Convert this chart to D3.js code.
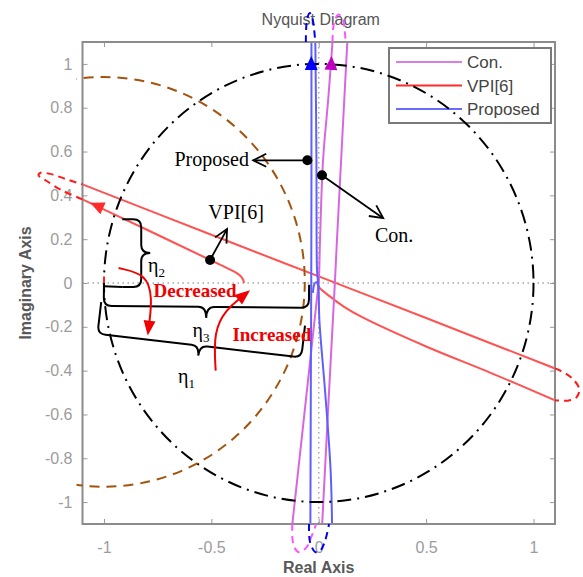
<!DOCTYPE html>
<html><head><meta charset="utf-8">
<script src="https://cdn.jsdelivr.net/npm/d3@7"></script>
<style>body{margin:0;background:#fff}svg{display:block}</style>
</head><body>
<svg id="c" width="583" height="577"></svg>
<script>
// ---------- data ----------
const xTicks = [-1, -0.5, 0, 0.5, 1];
const yTicks = [-1, -0.8, -0.6, -0.4, -0.2, 0, 0.2, 0.4, 0.6, 0.8, 1];
const legendLabels = ["Con.", "VPI[6]", "Proposed"];

// Con. (magenta) branches
const conA = [[-0.123,-1.1],[-0.095,-0.85],[-0.045,-0.4],[-0.004,-0.03],[0.0,0.0],[0.006,0.2],[0.02,0.56],[0.045,0.85],[0.064,1.1]];
const conB = [[0.016,-1.1],[0.045,-0.55],[0.075,0.0],[0.085,0.2],[0.133,1.1]];
const conLoopTop = [[0.064,1.1],[0.07,1.18],[0.09,1.225],[0.11,1.21],[0.12,1.16],[0.125,1.1]];
const conLoopBottom = [[-0.123,-1.1],[-0.119,-1.19],[-0.095,-1.228],[-0.06,-1.21],[-0.035,-1.16],[-0.012,-1.1]];

// VPI[6] (red) branches
const vpiUpper = [[-1.1,0.45],[-0.5,0.22],[0.0,0.03],[0.5,-0.16],[1.1,-0.39]];
const vpiLowerLeft = [[-1.1,0.382],[-0.8,0.243],[-0.505,0.105],[-0.4,0.055],[-0.368,0.035],[-0.352,0.015],[-0.348,0.0]];
const vpiLowerRight = [[-0.006,-0.002],[0.0,-0.018],[0.05,-0.06],[0.12,-0.11],[0.2,-0.155],[0.5,-0.29],[0.8,-0.41],[1.1,-0.535]];
const vpiLoopLeft = [[-1.1,0.382],[-1.2,0.425],[-1.27,0.468],[-1.305,0.492],[-1.295,0.503],[-1.25,0.498],[-1.18,0.475],[-1.1,0.45]];
const vpiLoopRight = [[1.1,-0.39],[1.15,-0.413],[1.19,-0.445],[1.213,-0.485],[1.2,-0.522],[1.16,-0.537],[1.1,-0.535]];

// Proposed (blue) branches
const propA = [[-0.039,-1.1],[-0.037,-0.5],[-0.035,0.0],[-0.034,0.5],[-0.034,1.1]];
const propB = [[-0.016,1.1],[-0.011,0.6],[-0.010,0.2],[-0.008,0.06],[-0.004,0.01],[-0.001,-0.02],[0.003,-0.17],[0.03,-0.5],[0.055,-0.85],[0.062,-1.1]];
const propHook = [[-0.027,-0.045],[-0.022,-0.01],[-0.013,0.004],[-0.004,-0.005],[0.0,-0.03]];
const propLoopTop = [[-0.06,1.1],[-0.055,1.2],[-0.042,1.232],[-0.03,1.21],[-0.022,1.16],[-0.016,1.1]];
const propLoopBottom = [[-0.045,-1.1],[-0.041,-1.18],[-0.016,-1.228],[0.007,-1.222],[0.03,-1.175],[0.048,-1.1]];

// direction arrows on curves [x, y, angle(deg, 0 = up)]
const curveArrows = [
  {x:-0.035, y:1.0, a:0, c:"#0000ff"},
  {x:0.058, y:1.0, a:3, c:"#c000c0"},
  {x:-1.03, y:0.352, a:-66, c:"#ff2a2a"}
];

// reference circles
const unitCircle = {cx:0, cy:0, r:1};
const vpiCircle = {cx:-1.0, cy:0.005, r:0.935};

// annotations (data coordinates)
const annDots = [[-0.053,0.56],[0.015,0.492],[-0.506,0.105]];
const annArrows = [
  {from:[-0.053,0.56], to:[-0.305,0.56]},
  {from:[0.015,0.492], to:[0.30,0.296]},
  {from:[-0.506,0.105], to:[-0.427,0.246]}
];
const annTexts = [
  {t:"Proposed", x:-0.325, y:0.533, anchor:"end"},
  {t:"Con.", x:0.262, y:0.185, anchor:"start"},
  {t:"VPI[6]", x:-0.514, y:0.29, anchor:"start"}
];
const braces = [
  {p1:[-0.915,0.291], p2:[-0.915,-0.018], side:-1, h:19, t:9, lab:"2", lx:-0.795, ly:0.05},
  {p1:[-1.0,0.0], p2:[-0.045,-0.008], side:1, h:23, t:11, lab:"3", lx:-0.588, ly:-0.247},
  {p1:[-1.013,-0.087], p2:[-0.064,-0.195], side:1, h:32, t:10, lab:"1", lx:-0.655, ly:-0.456}
];
const redArrows = [
  {pts:[[-0.932,0.068],[-0.80,0.04],[-0.775,-0.07],[-0.79,-0.19]], label:"Decreased", lx:-0.769, ly:-0.065},
  {pts:[[-0.48,-0.40],[-0.49,-0.22],[-0.43,-0.12],[-0.36,-0.065]], label:"Increased", lx:-0.402, ly:-0.265}
];

// ---------- drawing ----------
const svg = d3.select("#c");
const sx = d3.scaleLinear().domain([-1.1, 1.1]).range([82.5, 555]);
const sy = d3.scaleLinear().domain([-1.1, 1.1]).range([524, 42]);
const SANS = "'Liberation Sans', Arial, sans-serif";
const SERIF = "'Liberation Serif', 'Times New Roman', serif";

const defs = svg.append("defs");
defs.append("clipPath").attr("id","plot").append("rect")
  .attr("x", sx(-1.1)).attr("y", sy(1.1)).attr("width", sx(1.1)-sx(-1.1)).attr("height", sy(-1.1)-sy(1.1));
defs.append("clipPath").attr("id","plotWide").append("rect")
  .attr("x", sx(-1.1)-6).attr("y", sy(1.1)).attr("width", sx(1.1)-sx(-1.1)+6).attr("height", sy(-1.1)-sy(1.1));
defs.append("marker").attr("id","openHead").attr("viewBox","-2 -9 18 18")
  .attr("refX",13).attr("refY",0).attr("markerWidth",18).attr("markerHeight",18)
  .attr("markerUnits","userSpaceOnUse").attr("orient","auto")
  .append("path").attr("d","M0,-6.5L13,0L0,6.5").attr("fill","none").attr("stroke","#000").attr("stroke-width",1.8);
defs.append("marker").attr("id","redHead").attr("viewBox","-1 -8 18 16")
  .attr("refX",4).attr("refY",0).attr("markerWidth",18).attr("markerHeight",16)
  .attr("markerUnits","userSpaceOnUse").attr("orient","auto")
  .append("path").attr("d","M0,-6L15,0L0,6Z").attr("fill","#f00000");

const line = d3.line().x(d => sx(d[0])).y(d => sy(d[1])).curve(d3.curveCatmullRom.alpha(0.5));

// zero grid lines
svg.append("line").attr("x1", sx(-1.1)).attr("x2", sx(1.1)).attr("y1", sy(0)).attr("y2", sy(0))
  .attr("stroke","#a8a8a8").attr("stroke-width",1.5).attr("stroke-dasharray","1.5,3.5");
svg.append("line").attr("x1", sx(0)).attr("x2", sx(0)).attr("y1", sy(1.1)).attr("y2", sy(-1.1))
  .attr("stroke","#a8a8a8").attr("stroke-width",1.5).attr("stroke-dasharray","1.5,3.5");

// solid curves (clipped)
const gc = svg.append("g").attr("clip-path","url(#plot)").attr("fill","none").attr("stroke-width",2);
[vpiUpper, vpiLowerLeft, vpiLowerRight].forEach(d => gc.append("path").attr("d", line(d)).attr("stroke","#ff5252"));
[conA, conB].forEach(d => gc.append("path").attr("d", line(d)).attr("stroke","#d766e0"));
[propA, propB, propHook].forEach(d => gc.append("path").attr("d", line(d)).attr("stroke","#5f5fff"));

// axes
function styleAxis(g){
  g.select(".domain").remove();
  g.selectAll(".tick line").attr("stroke","#9a9a9a").attr("stroke-width",1);
  g.selectAll(".tick text").attr("fill","#9c9c9c").attr("font-size",16).attr("font-family",SANS);
}
svg.append("g").attr("transform",`translate(0,${sy(-1.1)})`)
  .call(d3.axisBottom(sx).tickValues(xTicks).tickSizeInner(-5).tickSizeOuter(0).tickPadding(18).tickFormat(d => String(d)))
  .call(styleAxis);
svg.append("g").attr("transform",`translate(${sx(-1.1)},0)`)
  .call(d3.axisLeft(sy).tickValues(yTicks).tickSizeInner(-5).tickSizeOuter(0).tickPadding(10).tickFormat(d => String(d)))
  .call(styleAxis);
svg.append("g").attr("transform",`translate(0,${sy(1.1)})`)
  .call(d3.axisTop(sx).tickValues(xTicks).tickSizeInner(-5).tickSizeOuter(0).tickFormat(""))
  .call(styleAxis);
svg.append("g").attr("transform",`translate(${sx(1.1)},0)`)
  .call(d3.axisRight(sy).tickValues(yTicks).tickSizeInner(-5).tickSizeOuter(0).tickFormat(""))
  .call(styleAxis);
svg.append("rect").attr("x", sx(-1.1)).attr("y", sy(1.1)).attr("width", sx(1.1)-sx(-1.1)).attr("height", sy(-1.1)-sy(1.1))
  .attr("fill","none").attr("stroke","#8c8c8c").attr("stroke-width",2);

// titles
svg.append("text").attr("x", (sx(-1.1)+sx(1.1))/2 + 2).attr("y", 25).attr("text-anchor","middle")
  .attr("font-family",SANS).attr("font-size",16).attr("fill","#555").text("Nyquist Diagram");
svg.append("text").attr("x", (sx(-1.1)+sx(1.1))/2).attr("y", 573).attr("text-anchor","middle")
  .attr("font-family",SANS).attr("font-size",16).attr("font-weight","bold").attr("fill","#585858").text("Real Axis");
svg.append("text").attr("transform",`translate(31,${sy(0)}) rotate(-90)`).attr("text-anchor","middle")
  .attr("font-family",SANS).attr("font-size",16).attr("font-weight","bold").attr("fill","#585858").text("Imaginary Axis");

// legend
const legColors = ["#d77fe2","#ff2a2a","#6a6aff"];
const lg = svg.append("g");
lg.append("rect").attr("x",389).attr("y",48).attr("width",162).attr("height",75)
  .attr("fill","#fff").attr("stroke","#7a7a7a").attr("stroke-width",2);
legendLabels.forEach((t,i) => {
  const y = 62 + i*23.5;
  lg.append("line").attr("x1",396).attr("x2",462).attr("y1",y).attr("y2",y).attr("stroke",legColors[i]).attr("stroke-width",2);
  lg.append("text").attr("x",467).attr("y",y+6).attr("font-family",SANS).attr("font-size",17).attr("fill","#444").text(t);
});

// reference circles
svg.append("ellipse").attr("cx", sx(unitCircle.cx)).attr("cy", sy(unitCircle.cy))
  .attr("rx", sx(unitCircle.r)-sx(0)).attr("ry", sy(0)-sy(unitCircle.r))
  .attr("fill","none").attr("stroke","#000").attr("stroke-width",2).attr("stroke-dasharray","14,6,2,6");
svg.append("g").attr("clip-path","url(#plotWide)").append("ellipse")
  .attr("cx", sx(vpiCircle.cx)).attr("cy", sy(vpiCircle.cy))
  .attr("rx", sx(vpiCircle.r)-sx(0)).attr("ry", sy(0)-sy(vpiCircle.r))
  .attr("fill","none").attr("stroke","#a4530f").attr("stroke-width",2).attr("stroke-dasharray","10,7");

// dashed loops outside the axes
const gl = svg.append("g").attr("fill","none").attr("stroke-width",2).attr("stroke-dasharray","7,5");
[vpiLoopLeft, vpiLoopRight].forEach(d => gl.append("path").attr("d", line(d)).attr("stroke","#ff1a1a"));
[conLoopTop, conLoopBottom].forEach(d => gl.append("path").attr("d", line(d)).attr("stroke","#ff55ff"));
[propLoopTop, propLoopBottom].forEach(d => gl.append("path").attr("d", line(d)).attr("stroke","#0000ee"));

// direction arrows
curveArrows.forEach(a => {
  svg.append("path").attr("d","M0,-8L6.5,6L-6.5,6Z")
    .attr("transform",`translate(${sx(a.x)},${sy(a.y)}) rotate(${a.a})`).attr("fill",a.c);
});

// small red mark at critical point
svg.append("line").attr("x1", sx(-1)).attr("x2", sx(-1)).attr("y1", sy(0.03)).attr("y2", sy(-0.005))
  .attr("stroke","#ff2020").attr("stroke-width",2);

// annotation arrows and dots
annArrows.forEach(a => {
  svg.append("line").attr("x1", sx(a.from[0])).attr("y1", sy(a.from[1])).attr("x2", sx(a.to[0])).attr("y2", sy(a.to[1]))
    .attr("stroke","#000").attr("stroke-width",1.8).attr("marker-end","url(#openHead)");
});
annDots.forEach(d => svg.append("circle").attr("cx", sx(d[0])).attr("cy", sy(d[1])).attr("r",5).attr("fill","#000"));
annTexts.forEach(a => svg.append("text").attr("x", sx(a.x)).attr("y", sy(a.y)).attr("text-anchor",a.anchor)
  .attr("font-family",SERIF).attr("font-size",20).attr("fill","#000").text(a.t));

// braces
function bracePath(b){
  const x1 = sx(b.p1[0]), y1 = sy(b.p1[1]), x2 = sx(b.p2[0]), y2 = sy(b.p2[1]);
  const L = Math.hypot(x2-x1, y2-y1), ex = (x2-x1)/L, ey = (y2-y1)/L;
  const nx = -ey*b.side, ny = ex*b.side;
  const r = 8, h = b.h, t = b.t;
  const P = (u,v) => [x1 + u*ex + v*nx, y1 + u*ey + v*ny].map(v => v.toFixed(2)).join(",");
  return `M${P(0,0)}L${P(0,h-r)}Q${P(0,h)} ${P(r,h)}L${P(L/2-r,h)}Q${P(L/2,h)} ${P(L/2,h+t)}` +
         `Q${P(L/2,h)} ${P(L/2+r,h)}L${P(L-r,h)}Q${P(L,h)} ${P(L,h-r)}L${P(L,0)}`;
}
braces.forEach(b => {
  svg.append("path").attr("d", bracePath(b)).attr("fill","none").attr("stroke","#000").attr("stroke-width",2);
  const tx = svg.append("text").attr("x", sx(b.lx)).attr("y", sy(b.ly)).attr("font-family",SERIF).attr("font-size",20).attr("fill","#000");
  tx.append("tspan").text("η");
  tx.append("tspan").attr("font-size",13).attr("dy",5).text(b.lab);
});
svg.append("line").attr("x1", sx(-0.915)).attr("y1", sy(-0.018)).attr("x2", sx(-1.0)).attr("y2", sy(-0.015))
  .attr("stroke","#000").attr("stroke-width",2);

// red curved arrows with labels
const smooth = d3.line().x(d => sx(d[0])).y(d => sy(d[1])).curve(d3.curveBasis);
redArrows.forEach(a => {
  svg.append("path").attr("d", smooth(a.pts)).attr("fill","none").attr("stroke","#f00000").attr("stroke-width",2)
    .attr("marker-end","url(#redHead)");
  svg.append("text").attr("x", sx(a.lx)).attr("y", sy(a.ly)).attr("font-family",SERIF).attr("font-size",19)
    .attr("font-weight","bold").attr("fill","#f00000").text(a.label);
});
</script>
</body></html>
